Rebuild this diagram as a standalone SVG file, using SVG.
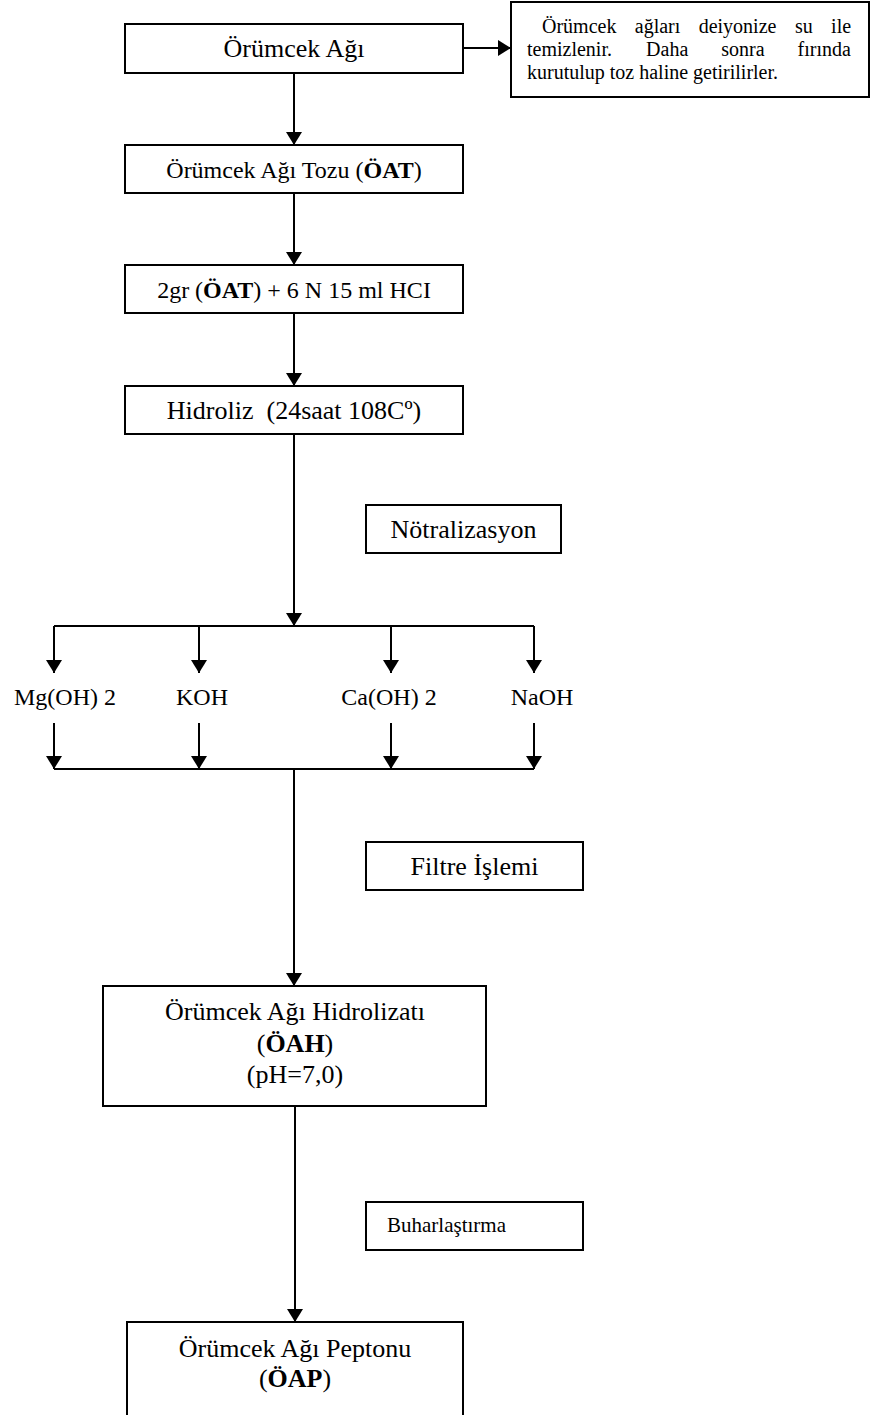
<svg xmlns="http://www.w3.org/2000/svg" width="872" height="1415" viewBox="0 0 872 1415">
<defs>
<marker id="ah" viewBox="0 0 13 16" refX="13" refY="8" markerWidth="13" markerHeight="16" orient="auto" markerUnits="userSpaceOnUse">
<path d="M0,0 L13,8 L0,16 z" fill="#000"/>
</marker>
<style>
.box{fill:#fff;stroke:#000;stroke-width:2}
.t{font-family:"Liberation Serif","Times New Roman",serif;fill:#000}
.c{text-anchor:middle}
.ln{stroke:#000;stroke-width:2;fill:none}
.arr{stroke:#000;stroke-width:2;fill:none;marker-end:url(#ah)}
</style>
</defs>
<rect width="872" height="1415" fill="#fff"/>

<g id="connectors">
<line class="arr" x1="463" y1="48" x2="511" y2="48"/>
<line class="arr" x1="294" y1="73" x2="294" y2="145"/>
<line class="arr" x1="294" y1="193" x2="294" y2="265"/>
<line class="arr" x1="294" y1="313" x2="294" y2="386"/>
<line class="arr" x1="294" y1="434" x2="294" y2="626"/>
<line class="ln" x1="54" y1="626" x2="534" y2="626"/>
<line class="arr" x1="54" y1="626" x2="54" y2="673"/>
<line class="arr" x1="199" y1="626" x2="199" y2="673"/>
<line class="arr" x1="391" y1="626" x2="391" y2="673"/>
<line class="arr" x1="534" y1="626" x2="534" y2="673"/>
<line class="arr" x1="54" y1="723" x2="54" y2="769"/>
<line class="arr" x1="199" y1="723" x2="199" y2="769"/>
<line class="arr" x1="391" y1="723" x2="391" y2="769"/>
<line class="arr" x1="534" y1="723" x2="534" y2="769"/>
<line class="ln" x1="54" y1="769" x2="534" y2="769"/>
<line class="arr" x1="294" y1="769" x2="294" y2="986"/>
<line class="arr" x1="295" y1="1106" x2="295" y2="1322"/>
</g>

<g id="n1">
<rect class="box" x="125" y="24" width="338" height="49"/>
<text class="t c" x="294" y="57" font-size="26">Örümcek Ağı</text>
</g>

<g id="note">
<rect class="box" x="511" y="2" width="358" height="95"/>
<text class="t" font-size="20" y="33"><tspan x="542">Örümcek</tspan><tspan x="634.8">ağları</tspan><tspan x="698.7">deiyonize</tspan><tspan x="794.9">su</tspan><tspan x="831.1">ile</tspan></text>
<text class="t" font-size="20" y="56"><tspan x="527">temizlenir.</tspan><tspan x="646.1">Daha</tspan><tspan x="721.3">sonra</tspan><tspan x="797.6">fırında</tspan></text>
<text class="t" font-size="20" x="527" y="79">kurutulup toz haline getirilirler.</text>
</g>

<g id="n2">
<rect class="box" x="125" y="145" width="338" height="48"/>
<text class="t c" x="294" y="178" font-size="24">Örümcek Ağı Tozu (<tspan font-weight="bold">ÖAT</tspan>)</text>
</g>

<g id="n3">
<rect class="box" x="125" y="265" width="338" height="48"/>
<text class="t c" x="294" y="298" font-size="24">2gr (<tspan font-weight="bold">ÖAT</tspan>) + 6 N 15 ml HCI</text>
</g>

<g id="n4">
<rect class="box" x="125" y="386" width="338" height="48"/>
<text class="t c" x="294" y="419" font-size="26" xml:space="preserve">Hidroliz  (24saat 108Cº)</text>
</g>

<g id="notr">
<rect class="box" x="366" y="505" width="195" height="48"/>
<text class="t c" x="463.5" y="538" font-size="26">Nötralizasyon</text>
</g>

<g id="mg"><text class="t" x="14" y="705" font-size="24">Mg(OH) 2</text></g>
<g id="koh"><text class="t c" x="202" y="705" font-size="24">KOH</text></g>
<g id="ca"><text class="t c" x="389" y="705" font-size="24">Ca(OH) 2</text></g>
<g id="naoh"><text class="t c" x="542" y="705" font-size="24">NaOH</text></g>

<g id="filtre">
<rect class="box" x="366" y="842" width="217" height="48"/>
<text class="t c" x="474.5" y="875" font-size="26">Filtre İşlemi</text>
</g>

<g id="n5">
<rect class="box" x="103" y="986" width="383" height="120"/>
<text class="t c" x="295" y="1020" font-size="26">Örümcek Ağı Hidrolizatı</text>
<text class="t c" x="295" y="1052" font-size="26">(<tspan font-weight="bold">ÖAH</tspan>)</text>
<text class="t c" x="295" y="1083" font-size="26">(pH=7,0)</text>
</g>

<g id="buhar">
<rect class="box" x="366" y="1202" width="217" height="48"/>
<text class="t" x="387" y="1232" font-size="21">Buharlaştırma</text>
</g>

<g id="n6">
<rect class="box" x="127" y="1322" width="336" height="110"/>
<text class="t c" x="295" y="1357" font-size="26">Örümcek Ağı Peptonu</text>
<text class="t c" x="295" y="1387" font-size="26">(<tspan font-weight="bold">ÖAP</tspan>)</text>
</g>
</svg>
